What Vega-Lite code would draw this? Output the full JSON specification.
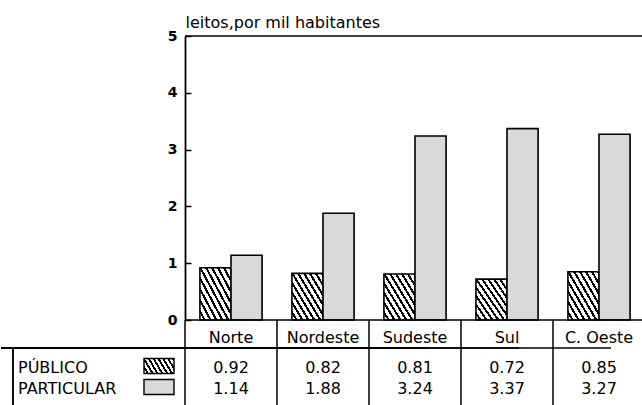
{
  "$schema": "https://vega.github.io/schema/vega-lite/v6.json",
  "padding": {"left": 0, "top": 14, "right": 0, "bottom": 0},
  "spacing": 0,
  "bounds": "flush",
  "background": "white",
  "config": {"view": {"stroke": null}, "font": "DejaVu Sans"},
  "resolve": {"scale": {"x": "independent", "y": "independent"}},
  "datasets": {
    "leitos": [
      {"regiao": "Norte", "tipo": "PÚBLICO", "leitos": 0.92},
      {"regiao": "Norte", "tipo": "PARTICULAR", "leitos": 1.14},
      {"regiao": "Nordeste", "tipo": "PÚBLICO", "leitos": 0.82},
      {"regiao": "Nordeste", "tipo": "PARTICULAR", "leitos": 1.88},
      {"regiao": "Sudeste", "tipo": "PÚBLICO", "leitos": 0.81},
      {"regiao": "Sudeste", "tipo": "PARTICULAR", "leitos": 3.24},
      {"regiao": "Sul", "tipo": "PÚBLICO", "leitos": 0.72},
      {"regiao": "Sul", "tipo": "PARTICULAR", "leitos": 3.37},
      {"regiao": "C. Oeste", "tipo": "PÚBLICO", "leitos": 0.85},
      {"regiao": "C. Oeste", "tipo": "PARTICULAR", "leitos": 3.27}
    ]
  },
  "vconcat": [
    {
      "width": 644,
      "height": 284,
      "data": {"name": "leitos"},
      "encoding": {
        "x": {"field": "regiao", "type": "nominal", "scale": {"domain": ["rótulo", "legenda", "Norte", "Nordeste", "Sudeste", "Sul", "C. Oeste"], "paddingInner": 0, "paddingOuter": 0}, "axis": null}
      },
      "layer": [
        {
          "mark": {"type": "bar", "stroke": "black", "strokeWidth": 1.6},
          "encoding": {
            "xOffset": {"field": "tipo", "type": "nominal", "scale": {"domain": ["PÚBLICO", "PARTICULAR"], "paddingInner": 0, "paddingOuter": 0.48}},
            "y": {
              "field": "leitos", "type": "quantitative",
              "scale": {"domain": [0, 5], "nice": false},
              "title": "leitos,por mil habitantes",
              "axis": {
                "offset": -184, "values": [0, 1, 2, 3, 4, 5], "format": "d", "grid": false,
                "tickSize": -6, "tickWidth": 1.5, "tickColor": "black",
                "domainColor": "black", "domainWidth": 1.8,
                "labelPadding": 14, "labelFont": "DejaVu Sans", "labelFontSize": 14, "labelFontWeight": "bold", "labelColor": "black",
                "titleAngle": 0, "titleAlign": "left", "titleBaseline": "alphabetic", "titleX": 0, "titleY": -9,
                "titleFont": "DejaVu Sans", "titleFontSize": 16, "titleFontWeight": "normal", "titleColor": "black"
              }
            },
            "fill": {
              "condition": {
                "test": "datum.tipo === 'PÚBLICO'",
                "value": {"gradient": "linear", "x1": 0, "y1": 1, "x2": 1.05, "y2": 0.055, "stops": [
                  {"offset": 0, "color": "white"}, {"offset": 0.06, "color": "white"}, {"offset": 0.06, "color": "black"}, {"offset": 0.1, "color": "black"},
                  {"offset": 0.1, "color": "white"}, {"offset": 0.16, "color": "white"}, {"offset": 0.16, "color": "black"}, {"offset": 0.2, "color": "black"},
                  {"offset": 0.2, "color": "white"}, {"offset": 0.26, "color": "white"}, {"offset": 0.26, "color": "black"}, {"offset": 0.3, "color": "black"},
                  {"offset": 0.3, "color": "white"}, {"offset": 0.36, "color": "white"}, {"offset": 0.36, "color": "black"}, {"offset": 0.4, "color": "black"},
                  {"offset": 0.4, "color": "white"}, {"offset": 0.46, "color": "white"}, {"offset": 0.46, "color": "black"}, {"offset": 0.5, "color": "black"},
                  {"offset": 0.5, "color": "white"}, {"offset": 0.56, "color": "white"}, {"offset": 0.56, "color": "black"}, {"offset": 0.6, "color": "black"},
                  {"offset": 0.6, "color": "white"}, {"offset": 0.66, "color": "white"}, {"offset": 0.66, "color": "black"}, {"offset": 0.7, "color": "black"},
                  {"offset": 0.7, "color": "white"}, {"offset": 0.76, "color": "white"}, {"offset": 0.76, "color": "black"}, {"offset": 0.8, "color": "black"},
                  {"offset": 0.8, "color": "white"}, {"offset": 0.86, "color": "white"}, {"offset": 0.86, "color": "black"}, {"offset": 0.9, "color": "black"},
                  {"offset": 0.9, "color": "white"}, {"offset": 0.96, "color": "white"}, {"offset": 0.96, "color": "black"}, {"offset": 1, "color": "black"}
                ]}
              },
              "value": "#d9d9d9"
            }
          }
        },
        {
          "transform": [{"aggregate": [{"op": "count", "as": "n"}], "groupby": ["regiao"]}],
          "mark": {"type": "rect", "fill": null, "stroke": "black", "strokeWidth": 1.6},
          "encoding": {
            "y": {"datum": 5, "type": "quantitative", "title": "leitos,por mil habitantes"},
            "y2": {"datum": 5}
          }
        },
        {
          "transform": [{"aggregate": [{"op": "count", "as": "n"}], "groupby": ["regiao"]}],
          "mark": {"type": "rect", "fill": null, "stroke": "black", "strokeWidth": 1.6},
          "encoding": {
            "y": {"datum": 0, "type": "quantitative", "title": "leitos,por mil habitantes"},
            "y2": {"datum": 0}
          }
        }
      ]
    },
    {
      "width": 644,
      "height": 28,
      "data": {"name": "leitos"},
      "transform": [{"aggregate": [{"op": "count", "as": "n"}], "groupby": ["regiao"]}],
      "encoding": {
        "x": {"field": "regiao", "type": "nominal", "scale": {"domain": ["rótulo", "legenda", "Norte", "Nordeste", "Sudeste", "Sul", "C. Oeste"], "paddingInner": 0, "paddingOuter": 0}, "axis": null}
      },
      "layer": [
        {
          "mark": {"type": "rule", "stroke": "black", "strokeWidth": 1.5},
          "encoding": {"x": {"field": "regiao", "type": "nominal", "bandPosition": 0}}
        },
        {
          "mark": {"type": "text", "font": "DejaVu Sans", "fontSize": 16, "baseline": "middle", "dy": 4},
          "encoding": {"text": {"field": "regiao"}}
        },
        {
          "mark": {"type": "rule", "stroke": "black", "strokeWidth": 1.5, "xOffset": 12},
          "encoding": {"y": {"value": "height"}}
        }
      ]
    },
    {
      "width": 644,
      "height": 57,
      "data": {"name": "leitos"},
      "encoding": {
        "x": {"field": "regiao", "type": "nominal", "scale": {"domain": ["rótulo", "legenda", "Norte", "Nordeste", "Sudeste", "Sul", "C. Oeste"], "paddingInner": 0, "paddingOuter": 0}, "axis": null}
      },
      "layer": [
        {
          "transform": [{"aggregate": [{"op": "count", "as": "n"}], "groupby": ["regiao"]}],
          "mark": {"type": "rule", "stroke": "black", "strokeWidth": 1.5},
          "encoding": {"x": {"field": "regiao", "type": "nominal", "bandPosition": 0}}
        },
        {
          "transform": [{"aggregate": [{"op": "count", "as": "n"}], "groupby": ["tipo"]}],
          "mark": {"type": "rule", "stroke": "black", "strokeWidth": 1.5, "xOffset": 12},
          "encoding": {"x": {"datum": "rótulo", "type": "nominal", "bandPosition": 0}}
        },
        {
          "mark": {"type": "text", "font": "DejaVu Sans", "fontSize": 16, "baseline": "middle"},
          "encoding": {
            "y": {"field": "tipo", "type": "nominal", "scale": {"domain": ["PÚBLICO", "PARTICULAR"], "paddingInner": 0, "paddingOuter": 0.357, "align": 0.63}, "axis": null},
            "text": {"field": "leitos", "type": "quantitative", "format": ".2f"}
          }
        },
        {
          "transform": [{"aggregate": [{"op": "count", "as": "n"}], "groupby": ["tipo"]}],
          "mark": {"type": "text", "font": "DejaVu Sans", "fontSize": 16, "baseline": "middle", "align": "left", "dx": 17},
          "encoding": {
            "x": {"datum": "rótulo", "type": "nominal", "bandPosition": 0},
            "y": {"field": "tipo", "type": "nominal"},
            "text": {"field": "tipo"}
          }
        },
        {
          "transform": [{"aggregate": [{"op": "count", "as": "n"}], "groupby": ["tipo"]}],
          "mark": {"type": "bar", "width": 30, "height": 15, "xOffset": 20, "yOffset": -2, "stroke": "black", "strokeWidth": 1.4},
          "encoding": {
            "x": {"datum": "legenda", "type": "nominal"},
            "y": {"field": "tipo", "type": "nominal"},
            "fill": {
              "condition": {
                "test": "datum.tipo === 'PÚBLICO'",
                "value": {"gradient": "linear", "x1": 0, "y1": 1, "x2": 1.19, "y2": 0.65, "stops": [
                  {"offset": 0, "color": "white"}, {"offset": 0.069, "color": "white"}, {"offset": 0.069, "color": "black"}, {"offset": 0.125, "color": "black"},
                  {"offset": 0.125, "color": "white"}, {"offset": 0.194, "color": "white"}, {"offset": 0.194, "color": "black"}, {"offset": 0.25, "color": "black"},
                  {"offset": 0.25, "color": "white"}, {"offset": 0.319, "color": "white"}, {"offset": 0.319, "color": "black"}, {"offset": 0.375, "color": "black"},
                  {"offset": 0.375, "color": "white"}, {"offset": 0.444, "color": "white"}, {"offset": 0.444, "color": "black"}, {"offset": 0.5, "color": "black"},
                  {"offset": 0.5, "color": "white"}, {"offset": 0.569, "color": "white"}, {"offset": 0.569, "color": "black"}, {"offset": 0.625, "color": "black"},
                  {"offset": 0.625, "color": "white"}, {"offset": 0.694, "color": "white"}, {"offset": 0.694, "color": "black"}, {"offset": 0.75, "color": "black"},
                  {"offset": 0.75, "color": "white"}, {"offset": 0.819, "color": "white"}, {"offset": 0.819, "color": "black"}, {"offset": 0.875, "color": "black"},
                  {"offset": 0.875, "color": "white"}, {"offset": 0.944, "color": "white"}, {"offset": 0.944, "color": "black"}, {"offset": 1, "color": "black"}
                ]}
              },
              "value": "#d9d9d9"
            }
          }
        }
      ]
    }
  ]
}
